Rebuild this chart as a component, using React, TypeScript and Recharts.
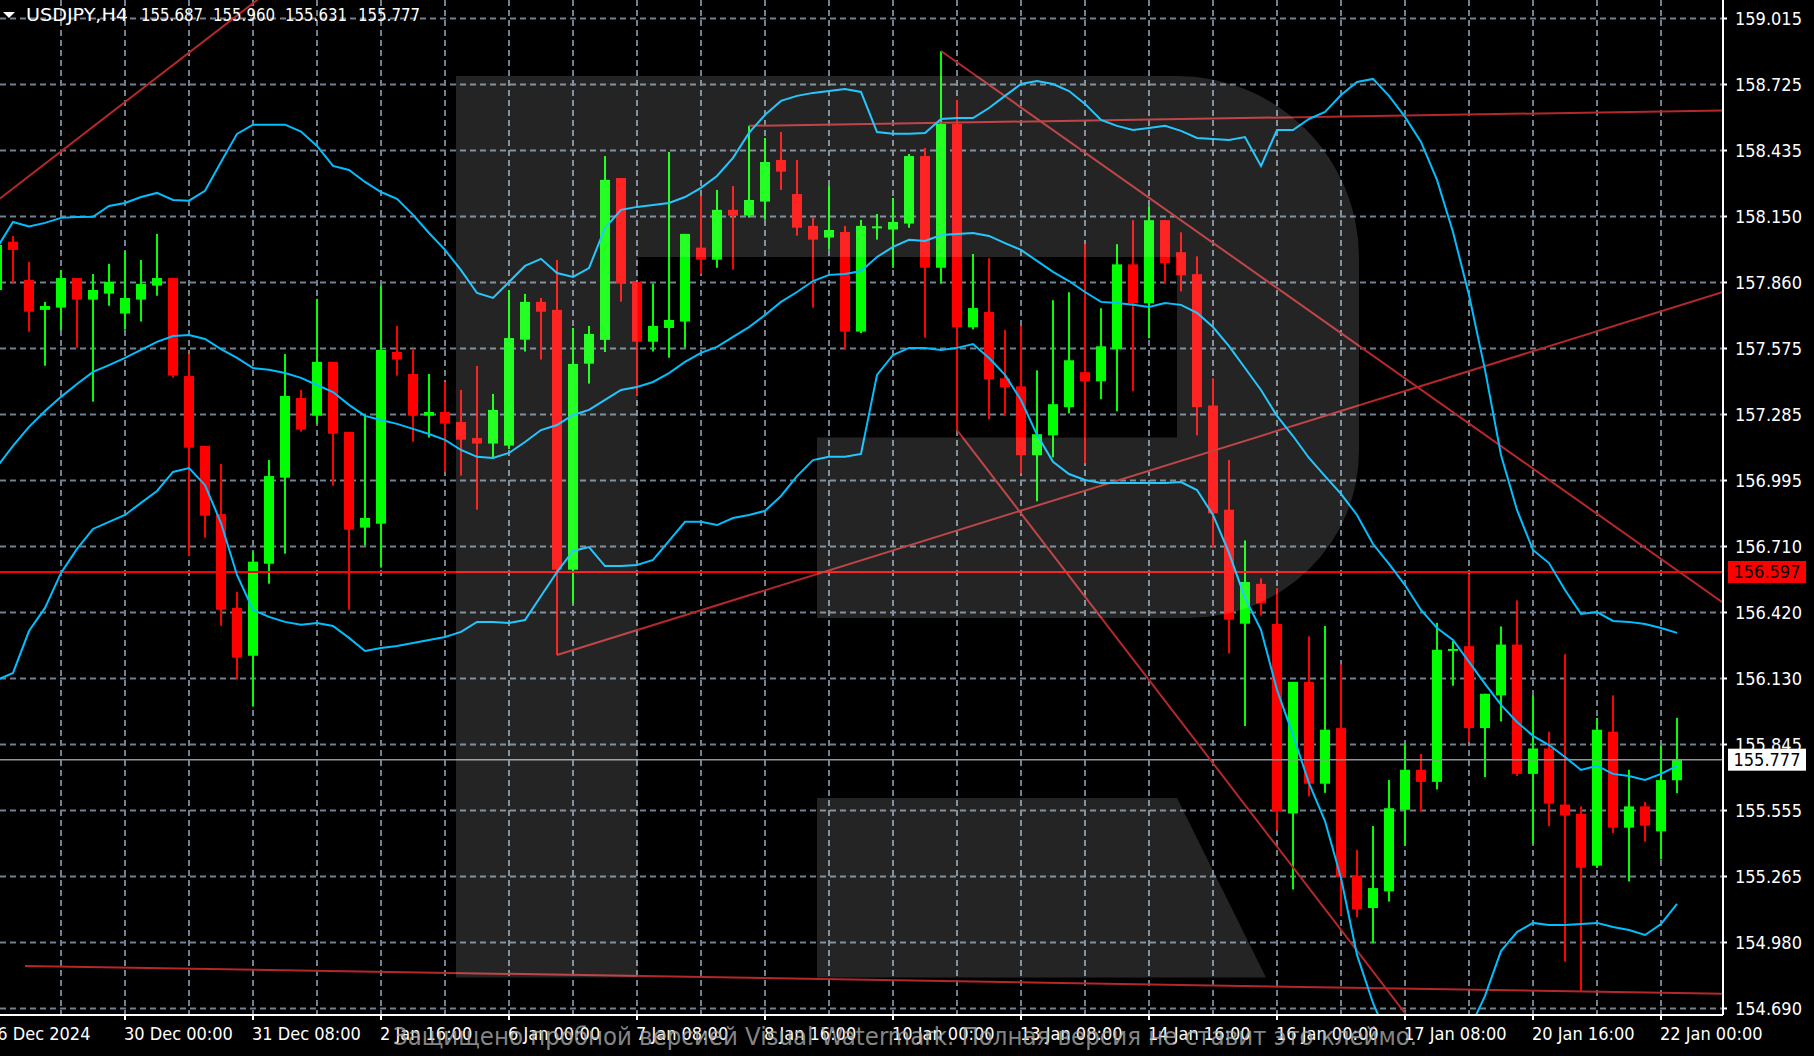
import React from "react";
import { ComposedChart, Bar, Line, XAxis, YAxis, ReferenceLine, CartesianGrid } from "recharts";

// USDJPY H4 candles, bar -1 is the partly hidden one at the left edge
const opens = [
    157.829, 158.040, 157.873, 157.742, 157.752, 157.881, 157.787, 157.813, 157.726, 157.787,
    157.848, 157.881, 157.453, 157.148, 156.850, 156.440, 156.231, 156.633, 157.009, 157.357,
    157.280, 157.515, 157.209, 156.791, 156.808, 157.558, 157.462, 157.280, 157.296, 157.252,
    157.182, 157.158, 157.149, 157.612, 157.777, 157.742, 156.607, 157.507, 157.611, 158.318,
    157.864, 157.603, 157.663, 157.691, 158.014, 157.961, 158.179, 158.154, 158.215, 158.397,
    158.248, 158.109, 158.058, 158.082, 157.647, 158.104, 158.093, 158.119, 158.414, 157.926,
    158.554, 157.666, 157.733, 157.443, 157.408, 157.107, 157.194, 157.317, 157.470, 157.430,
    157.570, 157.941, 157.771, 158.134, 157.994, 157.898, 157.324, 156.869, 156.371, 156.545,
    156.370, 155.542, 156.117, 155.672, 155.915, 155.269, 155.129, 155.202, 155.558, 155.733,
    155.680, 156.252, 156.273, 155.915, 156.058, 156.280, 155.715, 155.826, 155.581, 155.540,
    155.314, 155.899, 155.480, 155.573, 155.464, 155.687,
];
const highs = [
    158.048, 158.065, 157.951, 157.777, 157.916, 157.881, 157.899, 157.943, 157.999, 157.960,
    158.074, 157.881, 157.549, 157.148, 157.069, 156.511, 156.686, 157.086, 157.549, 157.392,
    157.790, 157.515, 157.209, 157.282, 157.847, 157.672, 157.567, 157.462, 157.427, 157.392,
    157.497, 157.375, 157.829, 157.812, 157.794, 157.960, 157.663, 157.672, 158.414, 158.318,
    157.864, 157.857, 158.432, 158.074, 158.240, 158.266, 158.283, 158.546, 158.493, 158.519,
    158.397, 158.144, 158.283, 158.109, 158.135, 158.161, 158.231, 158.423, 158.449, 158.873,
    158.659, 157.986, 157.968, 157.654, 157.672, 157.478, 157.784, 157.819, 158.030, 157.749,
    158.029, 158.134, 158.195, 158.134, 158.081, 157.976, 157.443, 157.086, 156.735, 156.569,
    156.526, 156.117, 156.316, 156.361, 156.193, 155.383, 155.487, 155.688, 155.849, 155.802,
    156.375, 156.295, 156.587, 156.065, 156.359, 156.473, 156.058, 155.899, 156.238, 155.573,
    155.959, 156.058, 155.733, 155.592, 155.837, 155.960,
];
const lows = [
    157.820, 157.861, 157.647, 157.498, 157.654, 157.577, 157.341, 157.760, 157.656, 157.691,
    157.804, 157.446, 156.668, 156.747, 156.362, 156.127, 156.009, 156.546, 156.677, 157.210,
    157.245, 156.974, 156.432, 156.712, 156.616, 157.455, 157.166, 157.184, 157.035, 157.018,
    156.869, 157.096, 157.134, 157.560, 157.525, 156.234, 156.459, 157.420, 157.558, 157.778,
    157.367, 157.560, 157.533, 157.577, 157.900, 157.926, 157.918, 158.145, 158.136, 158.266,
    158.066, 157.752, 158.005, 157.568, 157.641, 158.049, 157.926, 158.101, 157.621, 157.857,
    157.217, 157.657, 157.264, 157.282, 157.028, 156.906, 157.098, 157.290, 157.072, 157.352,
    157.299, 157.387, 157.618, 157.858, 157.823, 157.194, 156.705, 156.241, 155.924, 156.407,
    155.467, 155.210, 155.617, 155.632, 155.096, 155.089, 154.975, 155.157, 155.401, 155.551,
    155.647, 156.100, 155.854, 155.701, 155.944, 155.706, 155.410, 155.487, 154.895, 154.767,
    155.304, 155.457, 155.245, 155.419, 155.341, 155.631,
];
const closes = [
    158.026, 158.004, 157.734, 157.759, 157.881, 157.787, 157.829, 157.864, 157.794, 157.855,
    157.881, 157.455, 157.140, 156.843, 156.432, 156.223, 156.642, 157.016, 157.366, 157.219,
    157.515, 157.201, 156.782, 156.833, 157.567, 157.525, 157.280, 157.296, 157.245, 157.175,
    157.158, 157.305, 157.619, 157.777, 157.734, 156.607, 157.506, 157.637, 158.310, 157.857,
    157.603, 157.672, 157.698, 158.074, 157.961, 158.179, 158.154, 158.222, 158.388, 158.346,
    158.101, 158.049, 158.091, 157.647, 158.109, 158.107, 158.126, 158.414, 157.926, 158.554,
    157.666, 157.750, 157.439, 157.404, 157.107, 157.199, 157.330, 157.522, 157.430, 157.583,
    157.941, 157.771, 158.134, 157.946, 157.893, 157.317, 156.853, 156.389, 156.553, 156.459,
    155.553, 156.117, 155.672, 155.908, 155.265, 155.123, 155.216, 155.565, 155.733, 155.680,
    156.257, 156.261, 155.915, 156.065, 156.280, 155.715, 155.826, 155.585, 155.533, 155.305,
    155.908, 155.480, 155.573, 155.489, 155.688, 155.777,
];

// Bollinger bands
const bbUpper = [
    158.013, 158.126, 158.106, 158.122, 158.144, 158.148, 158.149, 158.196, 158.209, 158.235,
    158.253, 158.222, 158.219, 158.262, 158.388, 158.511, 158.551, 158.551, 158.551, 158.521,
    158.458, 158.371, 158.353, 158.301, 158.257, 158.227, 158.157, 158.078, 158.004, 157.916,
    157.816, 157.794, 157.864, 157.934, 157.965, 157.903, 157.886, 157.925, 158.100, 158.179,
    158.192, 158.200, 158.209, 158.235, 158.275, 158.327, 158.406, 158.515, 158.594, 158.655,
    158.677, 158.690, 158.698, 158.707, 158.694, 158.519, 158.511, 158.511, 158.515, 158.576,
    158.580, 158.580, 158.624, 158.677, 158.729, 158.742, 158.729, 158.698, 158.642, 158.572,
    158.546, 158.528, 158.537, 158.546, 158.524, 158.493, 158.489, 158.484, 158.497, 158.371,
    158.528, 158.528, 158.576, 158.607, 158.681, 158.738, 158.751, 158.677, 158.585, 158.476,
    158.310, 158.082, 157.807, 157.480, 157.108, 156.868, 156.693, 156.636, 156.518, 156.414,
    156.422, 156.383, 156.379, 156.370, 156.352, 156.331,
];
const bbMiddle = [
    157.056, 157.148, 157.231, 157.300, 157.362, 157.418, 157.471, 157.501, 157.532, 157.567,
    157.602, 157.628, 157.632, 157.615, 157.571, 157.532, 157.488, 157.480, 157.466, 157.445,
    157.414, 157.383, 157.327, 157.279, 157.261, 157.244, 157.222, 157.200, 157.174, 157.130,
    157.100, 157.095, 157.117, 157.165, 157.217, 157.239, 157.283, 157.305, 157.349, 157.392,
    157.405, 157.427, 157.466, 157.515, 157.554, 157.580, 157.624, 157.667, 157.720, 157.777,
    157.820, 157.868, 157.895, 157.899, 157.912, 157.973, 158.017, 158.048, 158.043, 158.069,
    158.074, 158.078, 158.065, 158.034, 158.004, 157.956, 157.908, 157.868, 157.820, 157.777,
    157.772, 157.764, 157.755, 157.772, 157.764, 157.729, 157.667, 157.584, 157.488, 157.392,
    157.279, 157.191, 157.095, 157.016, 156.938, 156.846, 156.719, 156.632, 156.540, 156.431,
    156.352, 156.300, 156.204, 156.108, 156.016, 155.942, 155.881, 155.841, 155.789, 155.732,
    155.750, 155.715, 155.706, 155.688, 155.715, 155.750,
];
const bbLower = [
    156.125, 156.156, 156.339, 156.440, 156.593, 156.698, 156.785, 156.816, 156.846, 156.899,
    156.951, 157.034, 157.051, 156.977, 156.811, 156.584, 156.431, 156.401, 156.379, 156.366,
    156.374, 156.361, 156.309, 156.252, 156.265, 156.274, 156.287, 156.300, 156.313, 156.335,
    156.379, 156.379, 156.374, 156.387, 156.492, 156.597, 156.689, 156.706, 156.623, 156.623,
    156.628, 156.650, 156.733, 156.816, 156.816, 156.802, 156.833, 156.846, 156.864, 156.929,
    157.016, 157.086, 157.100, 157.100, 157.113, 157.458, 157.545, 157.576, 157.576, 157.567,
    157.576, 157.593, 157.532, 157.458, 157.348, 157.196, 157.078, 157.025, 156.999, 156.986,
    156.986, 156.986, 156.986, 156.986, 156.990, 156.955, 156.846, 156.680, 156.484, 156.344,
    156.082, 155.885, 155.675, 155.509, 155.260, 154.924, 154.714, 154.553, 154.465, 154.421,
    154.421, 154.487, 154.596, 154.745, 154.941, 155.024, 155.064, 155.055, 155.055, 155.059,
    155.064, 155.046, 155.033, 155.011, 155.059, 155.147,
];

const yTickValues = [
    159.015, 158.7267, 158.4383, 158.15, 157.8617, 157.5733, 157.285, 156.9967,
    156.7083, 156.42, 156.1317, 155.8433, 155.555, 155.2667, 154.9783, 154.69,
];
const yTickLabels = [
    "159.015", "158.725", "158.435", "158.150", "157.860", "157.575", "157.285", "156.995",
    "156.710", "156.420", "156.130", "155.845", "155.555", "155.265", "154.980", "154.690",
];
const xTickBars = [-1, 7, 15, 23, 31, 39, 47, 55, 63, 71, 79, 87, 95, 103];
const xTickLabels = [
    "26 Dec 2024", "30 Dec 00:00", "31 Dec 08:00", "2 Jan 16:00", "6 Jan 00:00", "7 Jan 08:00",
    "8 Jan 16:00", "10 Jan 00:00", "13 Jan 08:00", "14 Jan 16:00", "16 Jan 00:00", "17 Jan 08:00",
    "20 Jan 16:00", "22 Jan 00:00",
];

// trend lines: [bar, price] -> [bar, price]
const trendLines = [
    [-0.8125, 158.229, 16.0625, 159.139],
    [46, 158.546, 106.875, 158.613],
    [58, 158.873, 106.875, 156.463],
    [34, 156.234, 106.875, 157.82],
    [59, 157.217, 89.25, 154.465],
    [0.75, 154.876, 106.875, 154.754],
];
const levelPrice = 156.597;
const bidPrice = 155.777;
const header = ["USDJPY,H4", "155.687", "155.960", "155.631", "155.777"];

const X_DOMAIN = [-0.8125, 106.875];
const Y_DOMAIN = [154.6616, 159.0958];
const gridBars = Array.from({ length: 26 }, (_, i) => 3 + i * 4);

const UP = "#00ff00";
const DOWN = "#ff0000";
const BAND = "#00bfff";
const TREND = "#b4282a";
const FONT = '"DejaVu Sans Condensed", "DejaVu Sans", sans-serif';
const FS = 18;

const data = opens.map((open, i) => ({
    bar: i - 1,
    open,
    high: highs[i],
    low: lows[i],
    close: closes[i],
    upper: bbUpper[i],
    middle: bbMiddle[i],
    lower: bbLower[i],
}));

const Candle = (props: any) => {
    const { x, y, width, height, payload } = props;
    if (x == null || y == null || !payload) return null;
    const top = Math.min(y, y + height);
    const h = Math.abs(height);
    const { open, close, high, low } = payload;
    const color = close >= open ? UP : DOWN;
    const k = h / (high - low || 1);
    const yOpen = top + (high - open) * k;
    const yClose = top + (high - close) * k;
    const cx = x + width / 2;
    return (
        <g>
            <rect x={cx - 1} y={top} width={2} height={h} fill={color} />
            <rect
                x={x}
                y={Math.min(yOpen, yClose)}
                width={width}
                height={Math.max(Math.abs(yOpen - yClose), 2)}
                fill={color}
            />
        </g>
    );
};

const XTick = ({ x, y, payload }: any) => {
    const i = xTickBars.indexOf(payload.value);
    return (
        <text x={x - 1 + (i === 0 ? -9 : 0)} y={y + 20} fill="#fff" fontSize={FS} fontFamily={FONT} textAnchor="start">
            {xTickLabels[i]}
        </text>
    );
};

const YTick = ({ x, y, payload }: any) => {
    const i = yTickValues.indexOf(payload.value);
    return (
        <text x={x} y={y} dy="0.36em" fill="#fff" fontSize={FS} fontFamily={FONT} textAnchor="start">
            {yTickLabels[i]}
        </text>
    );
};

const priceTag = (text: string, bg: string) => (props: any) => {
    const vb = props.viewBox || {};
    const left = vb.x + vb.width + 5;
    return (
        <g>
            <rect x={left} y={vb.y - 11} width={78} height={22} fill={bg} />
            <text x={left + 39} y={vb.y} dy="0.36em" fill="#000" fontSize={FS} fontFamily={FONT} textAnchor="middle">
                {text}
            </text>
        </g>
    );
};

const Overlay = () => (
    <svg width={1814} height={1056} style={{ position: "absolute", left: 0, top: 0, pointerEvents: "none" }}>
        <g fill="rgba(255,255,255,0.14)">
            <path d="M456,76 H1177 A182,182 0 0 1 1359,258 V451 A170,167 0 0 1 1189,618 H817 V437.5 H1177 V257 H637.6 V977.5 H456 Z" />
            <path d="M817,798 H1177 L1266,977.5 H817 Z" />
        </g>
        <polygon points="3,12 15,12 9,18" fill="#fff" />
        <g fill="#fff" fontSize={FS} fontFamily={FONT} lengthAdjust="spacingAndGlyphs">
            <text x={26} y={21} textLength={102} lengthAdjust="spacingAndGlyphs">{header[0]}</text>
            <text x={141} y={21} textLength={62} lengthAdjust="spacingAndGlyphs">{header[1]}</text>
            <text x={213} y={21} textLength={62} lengthAdjust="spacingAndGlyphs">{header[2]}</text>
            <text x={285} y={21} textLength={62} lengthAdjust="spacingAndGlyphs">{header[3]}</text>
            <text x={358} y={21} textLength={62} lengthAdjust="spacingAndGlyphs">{header[4]}</text>
        </g>
        <text
            x={905}
            y={1045}
            textAnchor="middle"
            textLength={1024}
            lengthAdjust="spacingAndGlyphs"
            fontSize={25}
            fontFamily={FONT}
            fill="rgba(170,170,170,0.8)"
        >
            Защищено пробной версией Visual Watermark. Полная версия не ставит это клеймо.
        </text>
    </svg>
);

export default function App() {
    return (
        <div style={{ position: "fixed", left: 0, top: 0, width: 1814, height: 1056, background: "#000", overflow: "hidden" }}>
            <ComposedChart width={1814} height={1056} data={data} margin={{ top: 0, right: 0, bottom: 0, left: 0 }}>
                <CartesianGrid
                    stroke="#708090"
                    strokeWidth={2}
                    strokeDasharray="6 4"
                    verticalValues={gridBars}
                    horizontalValues={yTickValues}
                />
                <XAxis
                    dataKey="bar"
                    type="number"
                    domain={X_DOMAIN}
                    allowDataOverflow
                    ticks={xTickBars}
                    interval={0}
                    height={41}
                    axisLine={{ stroke: "#fff", strokeWidth: 2 }}
                    tickLine={{ stroke: "#fff", strokeWidth: 2 }}
                    tickSize={5}
                    tickMargin={0}
                    tick={<XTick />}
                />
                <YAxis
                    orientation="right"
                    type="number"
                    domain={Y_DOMAIN}
                    allowDataOverflow
                    ticks={yTickValues}
                    interval={0}
                    width={91}
                    axisLine={{ stroke: "#fff", strokeWidth: 2 }}
                    tickLine={{ stroke: "#fff", strokeWidth: 2 }}
                    tickSize={4}
                    tickMargin={8}
                    tick={<YTick />}
                />
                <Bar
                    dataKey={(d: any) => [d.low, d.high]}
                    barSize={10}
                    shape={<Candle />}
                    isAnimationActive={false}
                />
                <ReferenceLine y={levelPrice} stroke="#ff0000" strokeWidth={2} label={priceTag("156.597", "#ff0000")} />
                <ReferenceLine y={bidPrice} stroke="#8c96a0" strokeWidth={1.5} label={priceTag("155.777", "#ffffff")} />
                {trendLines.map((t, i) => (
                    <ReferenceLine
                        key={i}
                        segment={[{ x: t[0], y: t[1] }, { x: t[2], y: t[3] }]}
                        stroke={TREND}
                        strokeWidth={2}
                        ifOverflow="hidden"
                    />
                ))}
                <Line dataKey="upper" stroke={BAND} strokeWidth={2} dot={false} type="linear" isAnimationActive={false} />
                <Line dataKey="middle" stroke={BAND} strokeWidth={2} dot={false} type="linear" isAnimationActive={false} />
                <Line dataKey="lower" stroke={BAND} strokeWidth={2} dot={false} type="linear" isAnimationActive={false} />
            </ComposedChart>
            <Overlay />
        </div>
    );
}
